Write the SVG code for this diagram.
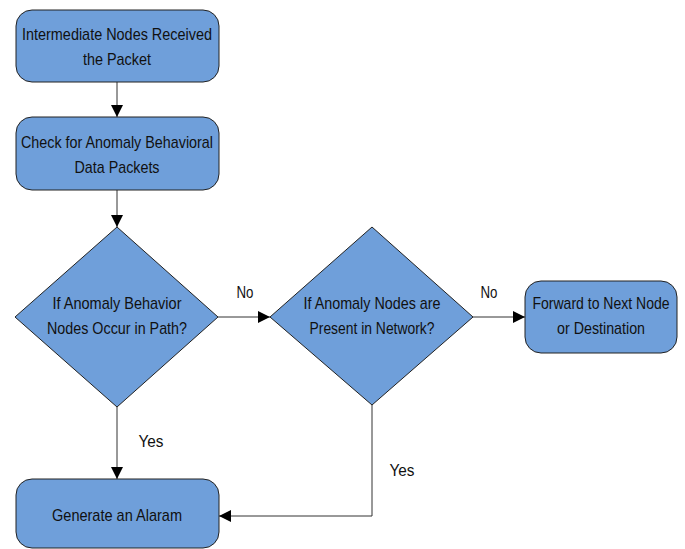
<svg xmlns="http://www.w3.org/2000/svg" width="685" height="549" viewBox="0 0 685 549">
<defs>
<marker id="ah" viewBox="0 0 10 10" refX="10" refY="5" markerWidth="12" markerHeight="12" markerUnits="userSpaceOnUse" orient="auto"><path d="M0,0 L10,5 L0,10 z" fill="#000"/></marker>
<style>
.n{fill:#6f9fda;stroke:#222;stroke-width:1}
.t{font-family:"Liberation Sans Narrow","Arial Narrow","Liberation Sans",sans-serif;font-size:17px;fill:#111;text-anchor:middle}
.c{fill:none;stroke:#333;stroke-width:1;marker-end:url(#ah)}
</style>
</defs>
<rect width="685" height="549" fill="#fff"/>
<g id="connectors">
<path class="c" d="M117,82 V117"/>
<path class="c" d="M117,190 V227"/>
<path class="c" d="M218,317 H270"/>
<path class="c" d="M473,317 H525"/>
<path class="c" d="M117,407 V479"/>
<path class="c" d="M372,405 V516 H219"/>
<text class="t" x="245" y="298" textLength="17" lengthAdjust="spacingAndGlyphs">No</text>
<text class="t" x="489" y="298" textLength="17" lengthAdjust="spacingAndGlyphs">No</text>
<text class="t" x="151" y="447" textLength="25" lengthAdjust="spacingAndGlyphs">Yes</text>
<text class="t" x="402" y="476" textLength="25" lengthAdjust="spacingAndGlyphs">Yes</text>
</g>
<g id="n1"><rect class="n" x="16" y="10" width="203" height="72" rx="16"/><text class="t" x="117" y="40" textLength="190" lengthAdjust="spacingAndGlyphs">Intermediate Nodes Received</text><text class="t" x="117" y="65" textLength="68" lengthAdjust="spacingAndGlyphs">the Packet</text></g>
<g id="n2"><rect class="n" x="16" y="117" width="203" height="73" rx="16"/><text class="t" x="117" y="148" textLength="192" lengthAdjust="spacingAndGlyphs">Check for Anomaly Behavioral</text><text class="t" x="117" y="173" textLength="85" lengthAdjust="spacingAndGlyphs">Data Packets</text></g>
<g id="d1"><polygon class="n" points="117,227 218,317 117,407 15,317"/><text class="t" x="117" y="309" textLength="129" lengthAdjust="spacingAndGlyphs">If Anomaly Behavior</text><text class="t" x="117" y="334" textLength="140" lengthAdjust="spacingAndGlyphs">Nodes Occur in Path?</text></g>
<g id="d2"><polygon class="n" points="372,227 473,317 372,405 270,317"/><text class="t" x="372" y="309" textLength="137" lengthAdjust="spacingAndGlyphs">If Anomaly Nodes are</text><text class="t" x="372" y="334" textLength="125" lengthAdjust="spacingAndGlyphs">Present in Network?</text></g>
<g id="n3"><rect class="n" x="525" y="281" width="152" height="72" rx="16"/><text class="t" x="601" y="309" textLength="137" lengthAdjust="spacingAndGlyphs">Forward to Next Node</text><text class="t" x="601" y="334" textLength="88" lengthAdjust="spacingAndGlyphs">or Destination</text></g>
<g id="n4"><rect class="n" x="16" y="479" width="203" height="69" rx="16"/><text class="t" x="117" y="521" textLength="130" lengthAdjust="spacingAndGlyphs">Generate an Alaram</text></g>
</svg>
